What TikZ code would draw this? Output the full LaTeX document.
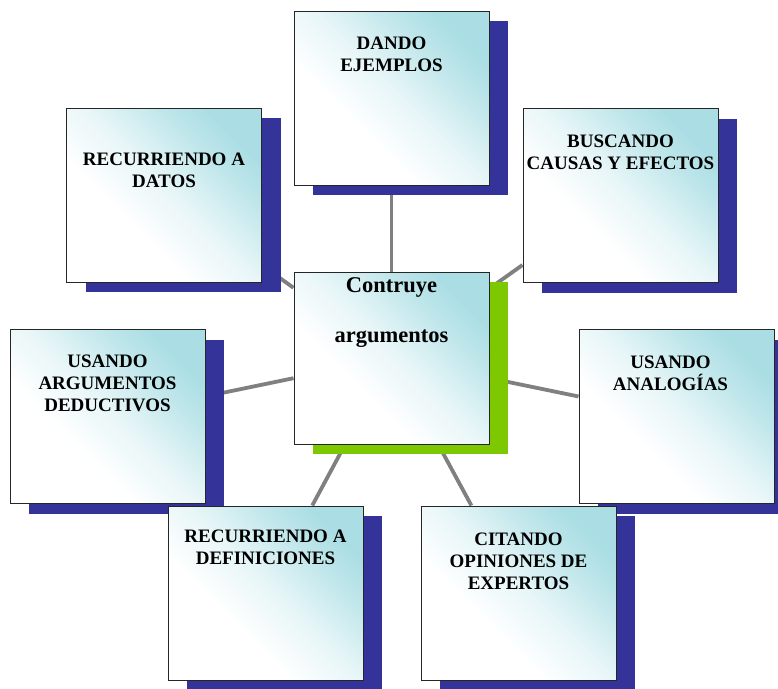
\documentclass[tikz,border=0pt]{standalone}
\usepackage{fontspec}
\setmainfont{Liberation Serif}
\usetikzlibrary{positioning,shadows,backgrounds}
\definecolor{boxcyan}{RGB}{170,222,228}
\definecolor{shadeblue}{RGB}{51,51,153}
\definecolor{shadegreen}{RGB}{125,200,0}
\definecolor{linkgray}{RGB}{128,128,128}
\pgfdeclareverticalshading{boxshade}{100bp}{color(0bp)=(white); color(25bp)=(white); color(38bp)=(white);
  color(52bp)=(boxcyan!28); color(66bp)=(boxcyan!75); color(75bp)=(boxcyan); color(100bp)=(boxcyan)}
\begin{document}
\begin{tikzpicture}[x=1pt,y=-1pt,every node/.style={font=\bfseries\fontsize{19}{22}\selectfont},
  box/.style={draw=black!85,line width=1pt,minimum width=195pt,minimum height=174pt,inner sep=0pt,
    shading=boxshade,shading angle=-45,
    drop shadow={shadow xshift=19pt,shadow yshift=-10pt,fill=#1,opacity=1}},
  box/.default=shadeblue,
  boxtext/.style={align=center,inner sep=0pt},
  link/.style={draw=linkgray,line width=3.8pt}]
\useasboundingbox (0,0) rectangle (778,688);
\node[box=shadegreen,minimum height=172pt] (mid) at (391.5,358) {};
\node[box] (dan) at (391.5,98) {};
\node[box] (dat) at (164,195) {};
\node[box] (bus) at (620.5,195.5) {};
\node[box] (arg) at (107.5,416.5) {};
\node[box] (ana) at (676.5,416.5) {};
\node[box] (def) at (265.5,593) {};
\node[box] (cit) at (518.5,593) {};
\begin{scope}[on background layer]
\foreach \n in {dan,dat,bus,arg,ana,def,cit}
  \draw[link] (mid) -- (\n);
\end{scope}
\node[boxtext,font=\bfseries\fontsize{22.5}{25.5}\selectfont,below=6pt of mid.north] (midtxt) {Contruye\\[24pt]argumentos};
\node[boxtext,below=26pt of dan.north] (dantxt) {DANDO\\EJEMPLOS};
\node[boxtext,below=45pt of dat.north] (dattxt) {RECURRIENDO A\\DATOS};
\node[boxtext,below=27pt of bus.north] (bustxt) {BUSCANDO\\CAUSAS Y EFECTOS};
\node[boxtext,below=26pt of arg.north] (argtxt) {USANDO\\ARGUMENTOS\\DEDUCTIVOS};
\node[boxtext,below=27pt of ana.north,xshift=-6pt] (anatxt) {USANDO\\ANALOGÍAS};
\node[boxtext,below=24pt of def.north] (deftxt) {RECURRIENDO A\\DEFINICIONES};
\node[boxtext,below=27pt of cit.north] (cittxt) {CITANDO\\OPINIONES DE\\EXPERTOS};
\end{tikzpicture}
\end{document}
